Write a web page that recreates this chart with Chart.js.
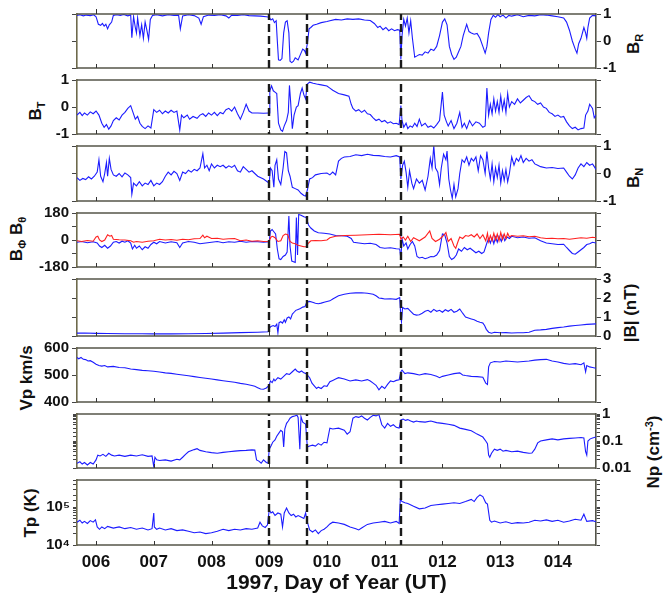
<!DOCTYPE html>
<html><head><meta charset="utf-8">
<script src="https://cdn.jsdelivr.net/npm/chart.js@4.4.1/dist/chart.umd.min.js"></script>
<style>
body{margin:0;background:#fff;width:663px;height:597px;overflow:hidden;position:relative;font-family:"Liberation Sans",Arial,sans-serif}
.pn{position:absolute;left:0}
.ttl{position:absolute;font-weight:bold;font-size:17px;white-space:nowrap;transform:translate(-50%,-50%) rotate(-90deg);color:#111;line-height:1}
.ttl sub{font-size:11px;vertical-align:-4px}
.ttl sup{font-size:11px;vertical-align:6px}
</style></head><body>
<div class="ttl" style="left:635px;top:44px">B<sub>R</sub></div>
<div class="ttl" style="left:37px;top:111px">B<sub>T</sub></div>
<div class="ttl" style="left:635px;top:178px">B<sub>N</sub></div>
<div class="ttl" style="left:18px;top:239px">B<sub>Φ</sub> B<sub>θ</sub></div>
<div class="ttl" style="left:630px;top:313px">|B| (nT)</div>
<div class="ttl" style="left:26px;top:378px">Vp km/s</div>
<div class="ttl" style="left:653px;top:452px">Np (cm<sup>-3</sup>)</div>
<div class="ttl" style="left:30px;top:513px">Tp (K)</div>
<script>
// ---------------- DATA ----------------
const dayTicks = [6, 7, 8, 9, 10, 11, 12, 13, 14];
const eventDays = [9.0, 9.65, 11.29];
const xTitle = '1997, Day of Year (UT)';

const brData = [[5.67,0.95],[5.72,0.97],[5.78,0.93],[5.83,0.96],[5.9,0.94],[5.96,0.97],[6.0,0.9],[6.04,0.62],[6.08,0.58],[6.11,0.65],[6.14,0.55],[6.17,0.62],[6.2,0.45],[6.23,0.6],[6.27,0.7],[6.3,0.95],[6.36,0.97],[6.42,0.95],[6.48,0.98],[6.55,0.93],[6.6,0.96],[6.62,0.12],[6.65,0.9],[6.68,0.5],[6.7,0.3],[6.72,0.85],[6.76,0.2],[6.79,0.6],[6.82,0.1],[6.85,0.7],[6.88,0.4],[6.91,0.06],[6.94,0.8],[6.98,0.95],[7.05,0.97],[7.15,0.93],[7.25,0.97],[7.35,0.95],[7.43,0.96],[7.46,0.45],[7.5,0.93],[7.6,0.97],[7.7,0.94],[7.78,0.85],[7.82,0.62],[7.86,0.9],[7.95,0.96],[8.05,0.95],[8.15,0.97],[8.25,0.93],[8.3,0.85],[8.35,0.96],[8.45,0.95],[8.55,0.97],[8.65,0.94],[8.75,0.93],[8.85,0.92],[8.95,0.9],[9.0,0.88],[9.03,0.78],[9.06,0.82],[9.09,0.68],[9.12,0.75],[9.14,0.0],[9.16,-0.7],[9.19,-0.72],[9.22,-0.65],[9.25,0.3],[9.28,0.7],[9.31,0.75],[9.34,0.3],[9.36,-0.75],[9.39,-0.8],[9.42,-0.75],[9.45,-0.62],[9.5,-0.7],[9.55,-0.45],[9.58,-0.3],[9.61,-0.35],[9.63,-0.45],[9.66,-0.1],[9.69,0.45],[9.72,0.5],[9.76,0.58],[9.82,0.62],[9.9,0.68],[10.0,0.72],[10.05,0.75],[10.15,0.8],[10.25,0.78],[10.35,0.82],[10.45,0.8],[10.55,0.82],[10.65,0.78],[10.75,0.76],[10.82,0.65],[10.88,0.5],[10.92,0.55],[10.97,0.42],[11.02,0.5],[11.07,0.38],[11.12,0.45],[11.17,0.38],[11.22,0.42],[11.26,0.4],[11.28,-0.68],[11.3,0.2],[11.33,0.8],[11.36,0.55],[11.39,0.85],[11.42,0.3],[11.45,0.75],[11.48,0.1],[11.52,-0.6],[11.56,-0.55],[11.6,-0.5],[11.65,-0.52],[11.7,-0.4],[11.75,-0.45],[11.8,-0.3],[11.85,-0.35],[11.9,-0.2],[11.95,0.2],[12.0,0.7],[12.04,0.82],[12.08,0.6],[12.12,-0.2],[12.16,-0.5],[12.2,-0.68],[12.24,-0.6],[12.28,-0.4],[12.32,-0.2],[12.36,0.2],[12.42,0.62],[12.46,0.35],[12.5,0.3],[12.55,0.25],[12.6,0.28],[12.65,0.1],[12.7,-0.2],[12.74,-0.45],[12.77,-0.2],[12.8,0.3],[12.84,0.8],[12.88,0.95],[12.92,0.88],[12.96,0.98],[13.0,0.9],[13.05,0.96],[13.1,0.85],[13.15,0.95],[13.2,0.92],[13.3,0.97],[13.4,0.9],[13.5,0.95],[13.6,0.93],[13.7,0.97],[13.8,0.96],[13.9,0.93],[14.0,0.9],[14.1,0.85],[14.15,0.7],[14.2,0.4],[14.25,0.0],[14.3,-0.3],[14.33,-0.45],[14.36,-0.1],[14.4,0.1],[14.45,0.5],[14.48,0.3],[14.5,0.1],[14.52,0.5],[14.55,0.85],[14.6,0.95],[14.66,0.93]];

const btData = [[5.67,-0.3],[5.72,-0.2],[5.76,-0.32],[5.8,-0.22],[5.85,-0.3],[5.9,-0.18],[5.95,-0.25],[6.0,-0.15],[6.05,-0.3],[6.1,-0.6],[6.14,-0.75],[6.18,-0.65],[6.22,-0.82],[6.26,-0.7],[6.3,-0.5],[6.35,-0.4],[6.4,-0.48],[6.45,-0.3],[6.5,-0.2],[6.55,-0.05],[6.6,0.05],[6.64,-0.2],[6.68,-0.45],[6.72,-0.35],[6.76,-0.6],[6.8,-0.72],[6.85,-0.8],[6.9,-0.7],[6.95,-0.78],[7.0,-0.1],[7.05,-0.2],[7.1,-0.12],[7.15,-0.25],[7.2,-0.15],[7.25,-0.22],[7.3,-0.12],[7.35,-0.2],[7.4,-0.15],[7.45,-0.85],[7.48,-0.3],[7.52,-0.4],[7.58,-0.3],[7.62,-0.45],[7.68,-0.35],[7.75,-0.42],[7.8,-0.3],[7.85,-0.25],[7.9,-0.35],[7.95,-0.22],[8.0,-0.3],[8.05,-0.2],[8.1,-0.32],[8.15,-0.2],[8.2,-0.25],[8.25,-0.1],[8.3,-0.05],[8.35,-0.15],[8.4,0.0],[8.45,-0.25],[8.5,-0.45],[8.55,-0.2],[8.6,0.1],[8.65,-0.15],[8.7,-0.22],[8.8,-0.22],[8.9,-0.23],[9.0,-0.22],[9.01,0.6],[9.04,0.78],[9.07,0.6],[9.1,0.55],[9.13,0.5],[9.16,-0.6],[9.2,-0.85],[9.23,-0.9],[9.26,-0.7],[9.3,-0.5],[9.33,-0.2],[9.35,0.8],[9.37,0.2],[9.4,-0.8],[9.43,-0.3],[9.47,0.0],[9.5,0.05],[9.54,0.5],[9.57,0.7],[9.6,0.45],[9.63,0.3],[9.66,0.85],[9.7,0.92],[9.76,0.88],[9.82,0.85],[9.9,0.82],[10.0,0.78],[10.05,0.7],[10.1,0.62],[10.2,0.5],[10.3,0.45],[10.38,0.4],[10.42,0.1],[10.45,-0.05],[10.5,-0.15],[10.55,-0.1],[10.6,-0.2],[10.65,-0.12],[10.7,-0.25],[10.75,-0.28],[10.8,-0.4],[10.85,-0.5],[10.9,-0.45],[10.95,-0.55],[11.0,-0.5],[11.05,-0.6],[11.1,-0.55],[11.15,-0.62],[11.2,-0.6],[11.25,-0.65],[11.28,0.05],[11.3,-0.5],[11.33,-0.75],[11.37,-0.6],[11.4,-0.8],[11.44,-0.7],[11.48,-0.75],[11.52,-0.6],[11.56,-0.72],[11.6,-0.45],[11.64,-0.7],[11.7,-0.6],[11.75,-0.75],[11.8,-0.7],[11.85,-0.78],[11.9,-0.65],[11.95,-0.5],[12.0,0.55],[12.03,-0.3],[12.07,-0.55],[12.1,-0.7],[12.15,-0.5],[12.2,-0.8],[12.25,-0.6],[12.3,-0.2],[12.34,-0.75],[12.38,-0.6],[12.42,-0.8],[12.47,-0.5],[12.52,-0.7],[12.58,-0.55],[12.64,-0.6],[12.7,-0.75],[12.74,-0.7],[12.77,0.7],[12.8,-0.3],[12.83,0.1],[12.86,-0.25],[12.89,0.3],[12.92,-0.15],[12.95,0.2],[12.98,-0.2],[13.01,0.4],[13.04,-0.1],[13.07,0.25],[13.1,-0.2],[13.13,0.5],[13.16,0.0],[13.2,0.2],[13.25,0.1],[13.3,0.3],[13.35,0.15],[13.4,0.25],[13.45,0.35],[13.5,0.42],[13.55,0.25],[13.6,0.2],[13.65,0.1],[13.7,0.15],[13.75,0.0],[13.8,-0.05],[13.85,-0.2],[13.9,-0.25],[13.95,-0.35],[14.0,-0.3],[14.05,-0.38],[14.1,-0.35],[14.15,-0.55],[14.2,-0.7],[14.25,-0.8],[14.3,-0.75],[14.35,-0.85],[14.4,-0.8],[14.45,-0.78],[14.48,-0.3],[14.52,-0.15],[14.55,0.1],[14.6,-0.05],[14.63,-0.4],[14.66,-0.3]];

const bnData = [[5.67,-0.15],[5.72,-0.25],[5.77,-0.18],[5.82,-0.22],[5.87,-0.12],[5.92,-0.2],[5.97,-0.1],[6.02,0.05],[6.05,0.5],[6.08,-0.1],[6.12,-0.3],[6.15,0.0],[6.18,0.4],[6.2,-0.1],[6.23,0.55],[6.26,0.15],[6.3,-0.05],[6.35,-0.1],[6.4,0.0],[6.45,-0.12],[6.5,0.02],[6.55,-0.05],[6.6,-0.15],[6.62,-0.75],[6.65,-0.35],[6.7,-0.45],[6.75,-0.3],[6.8,-0.45],[6.85,-0.35],[6.9,-0.4],[6.95,-0.25],[7.0,-0.45],[7.05,-0.35],[7.1,-0.4],[7.15,-0.3],[7.2,-0.1],[7.25,0.05],[7.3,-0.05],[7.35,0.08],[7.4,0.0],[7.45,-0.25],[7.5,0.05],[7.55,0.0],[7.6,0.12],[7.65,0.05],[7.7,0.15],[7.75,0.1],[7.8,0.2],[7.85,0.72],[7.88,0.2],[7.92,0.3],[7.96,0.1],[8.0,0.35],[8.05,0.2],[8.1,0.3],[8.15,0.25],[8.2,0.3],[8.25,0.2],[8.3,0.28],[8.35,0.22],[8.4,0.3],[8.45,0.1],[8.5,0.05],[8.55,0.25],[8.6,0.15],[8.65,0.05],[8.7,0.1],[8.8,-0.1],[8.9,-0.2],[9.0,-0.35],[9.02,0.2],[9.05,0.1],[9.08,-0.5],[9.1,0.3],[9.13,0.5],[9.16,-0.2],[9.2,-0.4],[9.24,0.2],[9.27,0.8],[9.3,0.75],[9.33,0.1],[9.36,-0.1],[9.4,-0.5],[9.45,-0.55],[9.5,-0.6],[9.55,-0.72],[9.6,-0.8],[9.63,-0.82],[9.66,-0.6],[9.7,-0.2],[9.75,-0.15],[9.8,-0.05],[9.9,0.0],[10.0,0.02],[10.05,-0.05],[10.1,0.05],[10.15,-0.05],[10.2,0.45],[10.25,0.55],[10.3,0.6],[10.4,0.62],[10.5,0.68],[10.6,0.65],[10.7,0.7],[10.8,0.66],[10.9,0.65],[11.0,0.62],[11.1,0.6],[11.2,0.65],[11.26,0.6],[11.28,-0.2],[11.31,0.3],[11.34,0.45],[11.37,0.05],[11.4,-0.5],[11.43,0.1],[11.47,-0.35],[11.5,-0.55],[11.55,-0.2],[11.6,-0.35],[11.65,-0.25],[11.7,-0.6],[11.75,-0.1],[11.79,0.55],[11.82,0.2],[11.85,1.0],[11.88,0.2],[11.92,0.05],[11.95,-0.4],[11.98,0.2],[12.02,0.7],[12.06,0.5],[12.08,0.82],[12.11,-0.2],[12.14,-0.6],[12.17,-0.9],[12.2,-0.4],[12.23,-0.85],[12.27,-0.55],[12.3,0.0],[12.34,0.5],[12.38,0.4],[12.42,0.6],[12.46,0.3],[12.5,0.55],[12.54,0.45],[12.58,0.6],[12.62,0.1],[12.66,0.65],[12.7,0.5],[12.74,0.0],[12.77,0.8],[12.8,0.2],[12.83,-0.2],[12.86,0.35],[12.89,-0.3],[12.92,0.2],[12.95,-0.15],[12.98,0.3],[13.01,-0.35],[13.04,0.1],[13.07,-0.25],[13.1,0.15],[13.13,-0.3],[13.16,0.0],[13.2,0.6],[13.24,0.3],[13.28,0.55],[13.32,0.45],[13.36,0.65],[13.4,0.4],[13.45,0.55],[13.5,0.45],[13.55,0.5],[13.6,0.35],[13.65,0.3],[13.7,0.25],[13.8,0.2],[13.9,0.22],[14.0,0.18],[14.1,0.2],[14.15,0.05],[14.2,-0.1],[14.25,-0.2],[14.3,-0.05],[14.35,0.2],[14.4,0.35],[14.45,0.25],[14.5,0.4],[14.55,0.3],[14.6,0.35],[14.66,0.15]];

const bphiData = [[5.67,-15],[5.75,-10],[5.85,-18],[5.95,-12],[6.02,-20],[6.06,-40],[6.1,-50],[6.15,-35],[6.2,-55],[6.25,-40],[6.3,-15],[6.35,-10],[6.4,-20],[6.45,-8],[6.5,-15],[6.55,-5],[6.6,-20],[6.63,-60],[6.67,-35],[6.7,-55],[6.75,-40],[6.8,-65],[6.85,-45],[6.9,-55],[6.95,-30],[7.0,-15],[7.05,-25],[7.1,-10],[7.2,-20],[7.3,-12],[7.4,-18],[7.45,-50],[7.5,-20],[7.6,-10],[7.7,-15],[7.8,-25],[7.9,-20],[8.0,-15],[8.1,-10],[8.2,-18],[8.3,-12],[8.4,-15],[8.5,-8],[8.6,-15],[8.7,-10],[8.8,-12],[8.9,-15],[9.0,-12],[9.02,60],[9.05,70],[9.08,55],[9.11,40],[9.14,-60],[9.17,-125],[9.2,-130],[9.24,-110],[9.28,-100],[9.31,-80],[9.34,160],[9.36,-40],[9.39,-140],[9.42,-145],[9.45,-150],[9.47,150],[9.49,-100],[9.51,170],[9.55,165],[9.6,155],[9.64,150],[9.68,100],[9.72,80],[9.78,60],[9.85,48],[9.95,45],[10.05,40],[10.15,30],[10.25,28],[10.35,25],[10.42,10],[10.46,-15],[10.55,-20],[10.65,-25],[10.75,-22],[10.85,-30],[10.92,-50],[11.0,-55],[11.1,-52],[11.2,-58],[11.26,-60],[11.28,-125],[11.3,10],[11.33,-40],[11.37,-20],[11.4,-60],[11.44,-30],[11.48,-10],[11.52,-40],[11.56,-110],[11.6,-120],[11.65,-115],[11.7,-125],[11.75,-118],[11.8,-110],[11.85,-112],[11.9,-100],[11.95,-70],[12.0,40],[12.04,35],[12.08,-20],[12.12,-110],[12.16,-130],[12.2,-120],[12.24,-100],[12.28,-60],[12.33,-75],[12.38,-50],[12.43,-65],[12.48,-55],[12.53,-70],[12.58,-85],[12.63,-75],[12.68,-90],[12.72,-80],[12.77,-20],[12.8,10],[12.83,-20],[12.86,15],[12.89,-25],[12.92,20],[12.95,-15],[12.98,25],[13.02,-10],[13.05,30],[13.08,-5],[13.12,20],[13.16,10],[13.2,25],[13.3,15],[13.4,20],[13.5,12],[13.6,15],[13.7,-5],[13.8,-20],[13.9,-25],[14.0,-30],[14.1,-28],[14.15,-50],[14.2,-70],[14.25,-90],[14.3,-95],[14.35,-80],[14.4,-65],[14.45,-50],[14.5,-30],[14.55,-25],[14.6,-15],[14.66,-20]];

const bthetaData = [[5.67,-5],[5.75,-10],[5.85,-3],[5.95,-8],[6.0,20],[6.03,25],[6.06,0],[6.1,-10],[6.15,0],[6.2,35],[6.24,25],[6.27,30],[6.3,5],[6.4,2],[6.5,0],[6.6,-5],[6.65,-15],[6.7,-10],[6.8,-15],[6.9,-8],[7.0,-5],[7.1,5],[7.2,0],[7.3,3],[7.4,-2],[7.5,5],[7.6,2],[7.7,8],[7.8,10],[7.85,32],[7.88,15],[7.92,25],[8.0,10],[8.1,12],[8.2,5],[8.3,8],[8.4,10],[8.5,-5],[8.6,0],[8.7,-8],[8.8,-5],[8.9,-10],[9.0,-8],[9.03,20],[9.06,25],[9.1,15],[9.15,-10],[9.2,-5],[9.24,30],[9.28,40],[9.32,35],[9.36,-10],[9.4,-20],[9.45,-25],[9.5,-35],[9.55,-40],[9.6,-45],[9.64,-45],[9.68,-20],[9.72,-5],[9.8,-3],[9.9,-5],[10.0,0],[10.05,15],[10.15,25],[10.3,30],[10.5,32],[10.7,35],[10.9,38],[11.1,35],[11.26,38],[11.28,5],[11.32,20],[11.36,0],[11.4,25],[11.45,-10],[11.5,15],[11.55,5],[11.6,-5],[11.7,20],[11.78,60],[11.82,10],[11.88,-10],[11.95,5],[12.02,30],[12.06,50],[12.1,-10],[12.15,10],[12.2,-40],[12.23,-55],[12.27,-10],[12.3,20],[12.35,10],[12.4,30],[12.45,25],[12.5,35],[12.55,20],[12.6,40],[12.65,10],[12.7,35],[12.75,-5],[12.78,45],[12.8,-10],[12.83,30],[12.86,-5],[12.89,45],[12.92,0],[12.95,40],[12.98,-5],[13.01,50],[13.04,5],[13.07,40],[13.1,10],[13.13,45],[13.16,20],[13.2,30],[13.3,25],[13.4,28],[13.5,22],[13.6,25],[13.7,15],[13.8,10],[13.9,12],[14.0,8],[14.1,10],[14.2,5],[14.3,10],[14.4,15],[14.5,12],[14.6,18],[14.66,15]];

const bmagData = [[5.67,0.15],[5.8,0.16],[6.0,0.14],[6.2,0.13],[6.5,0.12],[6.8,0.12],[7.0,0.11],[7.3,0.11],[7.6,0.12],[7.9,0.13],[8.2,0.15],[8.5,0.18],[8.8,0.2],[8.98,0.22],[9.0,0.4],[9.03,0.5],[9.07,0.55],[9.1,0.5],[9.13,0.62],[9.15,0.17],[9.17,0.7],[9.2,0.75],[9.23,0.68],[9.26,0.85],[9.28,0.72],[9.31,0.95],[9.34,1.0],[9.37,0.9],[9.4,1.15],[9.43,1.25],[9.46,1.35],[9.5,1.4],[9.54,1.45],[9.58,1.52],[9.62,1.55],[9.65,1.78],[9.7,1.82],[9.75,1.78],[9.8,1.72],[9.85,1.7],[9.9,1.73],[9.95,1.78],[10.0,1.82],[10.05,1.85],[10.1,1.95],[10.2,2.12],[10.3,2.2],[10.4,2.25],[10.5,2.27],[10.6,2.28],[10.7,2.25],[10.8,2.2],[10.85,2.12],[10.9,2.0],[10.95,1.98],[11.0,1.95],[11.1,1.96],[11.2,1.93],[11.26,2.02],[11.28,1.0],[11.29,0.75],[11.31,1.5],[11.35,1.42],[11.4,1.45],[11.45,1.3],[11.5,1.15],[11.55,1.1],[11.6,1.12],[11.65,1.2],[11.7,1.3],[11.75,1.35],[11.8,1.25],[11.85,1.4],[11.9,1.3],[11.95,1.35],[12.0,1.25],[12.05,1.38],[12.1,1.3],[12.15,1.4],[12.2,1.25],[12.25,1.3],[12.3,1.42],[12.35,1.2],[12.4,1.0],[12.45,0.95],[12.5,0.9],[12.55,0.85],[12.6,0.78],[12.65,0.72],[12.7,0.68],[12.73,0.55],[12.76,0.35],[12.8,0.2],[12.85,0.15],[12.9,0.2],[13.0,0.17],[13.1,0.18],[13.2,0.16],[13.3,0.17],[13.4,0.17],[13.5,0.2],[13.6,0.3],[13.7,0.32],[13.8,0.35],[13.9,0.4],[14.0,0.44],[14.1,0.47],[14.2,0.52],[14.3,0.55],[14.4,0.58],[14.5,0.61],[14.66,0.64]];

const vpData = [[5.67,565],[5.7,560],[5.74,565],[5.78,558],[5.82,557],[5.86,552],[5.9,553],[5.95,547],[6.0,540],[6.05,535],[6.1,533],[6.15,535],[6.2,530],[6.3,532],[6.4,528],[6.5,527],[6.6,522],[6.7,520],[6.8,517],[6.9,516],[7.0,514],[7.1,511],[7.2,508],[7.3,506],[7.4,503],[7.5,500],[7.6,497],[7.7,494],[7.8,491],[7.9,488],[8.0,485],[8.1,482],[8.2,479],[8.3,476],[8.4,473],[8.5,469],[8.6,466],[8.7,461],[8.75,458],[8.8,453],[8.85,448],[8.9,447],[8.95,452],[9.0,462],[9.02,478],[9.05,472],[9.08,485],[9.1,478],[9.15,490],[9.2,485],[9.25,495],[9.3,505],[9.35,502],[9.4,512],[9.45,522],[9.48,515],[9.52,510],[9.56,515],[9.6,508],[9.64,505],[9.66,500],[9.7,490],[9.74,470],[9.78,460],[9.82,450],[9.85,455],[9.9,450],[9.95,460],[10.0,458],[10.05,475],[10.1,480],[10.15,485],[10.2,490],[10.3,485],[10.4,478],[10.5,482],[10.6,478],[10.7,483],[10.75,478],[10.8,470],[10.85,462],[10.9,445],[10.95,458],[11.0,450],[11.05,465],[11.1,478],[11.15,475],[11.2,480],[11.25,482],[11.28,512],[11.3,518],[11.35,505],[11.4,508],[11.5,505],[11.6,500],[11.7,505],[11.8,502],[11.9,495],[11.95,490],[12.0,495],[12.1,500],[12.2,505],[12.3,508],[12.35,500],[12.4,498],[12.5,495],[12.6,494],[12.7,492],[12.75,470],[12.78,465],[12.8,530],[12.83,545],[12.9,550],[13.0,548],[13.1,552],[13.2,550],[13.3,548],[13.4,550],[13.5,552],[13.6,555],[13.7,557],[13.8,558],[13.9,552],[14.0,548],[14.1,543],[14.2,540],[14.3,542],[14.4,538],[14.45,545],[14.48,512],[14.5,535],[14.55,530],[14.6,528],[14.66,525]];

const npData = [[5.67,0.015],[5.72,0.017],[5.76,0.014],[5.8,0.016],[5.85,0.013],[5.9,0.016],[5.95,0.014],[6.0,0.02],[6.03,0.03],[6.07,0.028],[6.12,0.032],[6.17,0.027],[6.22,0.035],[6.27,0.03],[6.32,0.028],[6.4,0.03],[6.5,0.027],[6.6,0.03],[6.7,0.028],[6.8,0.031],[6.9,0.027],[6.97,0.028],[7.0,0.011],[7.02,0.025],[7.05,0.02],[7.1,0.019],[7.2,0.02],[7.3,0.018],[7.4,0.021],[7.45,0.02],[7.5,0.025],[7.55,0.032],[7.6,0.04],[7.7,0.048],[7.75,0.052],[7.8,0.045],[7.9,0.04],[8.0,0.037],[8.1,0.035],[8.2,0.038],[8.3,0.04],[8.4,0.042],[8.5,0.044],[8.6,0.045],[8.7,0.047],[8.75,0.046],[8.78,0.02],[8.82,0.018],[8.86,0.015],[8.9,0.02],[8.95,0.016],[8.98,0.015],[9.0,0.05],[9.03,0.065],[9.06,0.09],[9.1,0.11],[9.13,0.15],[9.17,0.2],[9.2,0.25],[9.23,0.22],[9.25,0.06],[9.27,0.28],[9.3,0.45],[9.33,0.55],[9.36,0.7],[9.4,0.8],[9.44,0.85],[9.48,0.9],[9.5,0.75],[9.53,0.05],[9.55,0.8],[9.58,0.5],[9.61,0.45],[9.63,0.42],[9.66,0.06],[9.7,0.065],[9.75,0.07],[9.8,0.065],[9.85,0.08],[9.9,0.07],[9.95,0.09],[10.0,0.085],[10.05,0.3],[10.1,0.28],[10.2,0.3],[10.3,0.25],[10.35,0.18],[10.4,0.22],[10.45,0.7],[10.5,0.8],[10.55,0.75],[10.6,0.85],[10.65,0.7],[10.7,0.6],[10.75,0.75],[10.8,0.9],[10.85,0.85],[10.9,0.95],[10.95,0.4],[11.0,0.3],[11.05,0.45],[11.1,0.35],[11.15,0.4],[11.2,0.32],[11.25,0.3],[11.28,0.6],[11.32,0.65],[11.36,0.58],[11.4,0.62],[11.45,0.55],[11.5,0.5],[11.55,0.55],[11.6,0.52],[11.7,0.5],[11.8,0.55],[11.9,0.48],[12.0,0.45],[12.1,0.42],[12.2,0.38],[12.3,0.3],[12.4,0.27],[12.5,0.24],[12.6,0.18],[12.7,0.14],[12.75,0.1],[12.78,0.08],[12.8,0.03],[12.82,0.025],[12.85,0.035],[12.9,0.05],[12.95,0.045],[13.0,0.05],[13.05,0.042],[13.1,0.045],[13.2,0.04],[13.3,0.042],[13.4,0.038],[13.5,0.035],[13.55,0.036],[13.6,0.05],[13.65,0.085],[13.7,0.1],[13.8,0.11],[13.9,0.12],[14.0,0.11],[14.1,0.12],[14.2,0.125],[14.3,0.13],[14.4,0.135],[14.45,0.13],[14.48,0.04],[14.5,0.03],[14.52,0.1],[14.56,0.12],[14.6,0.13],[14.66,0.14]];

const tpData = [[5.67,40000],[5.72,45000],[5.76,38000],[5.8,42000],[5.85,37000],[5.9,44000],[5.95,40000],[5.99,46000],[6.02,30000],[6.06,26000],[6.1,30000],[6.15,27000],[6.2,31000],[6.3,28000],[6.4,30000],[6.5,27000],[6.6,29000],[6.7,26000],[6.8,28000],[6.9,25000],[6.97,27000],[7.0,70000],[7.01,30000],[7.05,26000],[7.1,28000],[7.2,25000],[7.3,27000],[7.4,24000],[7.5,25000],[7.6,23000],[7.7,21000],[7.8,22000],[7.9,20000],[8.0,21000],[8.1,23000],[8.2,26000],[8.3,24000],[8.4,26000],[8.5,25000],[8.6,27000],[8.7,26000],[8.8,28000],[8.84,40000],[8.88,32000],[8.93,29000],[8.97,34000],[9.0,85000],[9.03,70000],[9.06,75000],[9.1,60000],[9.15,70000],[9.2,65000],[9.23,30000],[9.26,70000],[9.3,95000],[9.34,70000],[9.38,60000],[9.42,65000],[9.46,55000],[9.5,60000],[9.55,55000],[9.6,50000],[9.63,70000],[9.66,40000],[9.7,25000],[9.75,22000],[9.8,25000],[9.85,20000],[9.9,24000],[9.95,26000],[10.0,30000],[10.05,36000],[10.1,40000],[10.2,38000],[10.3,35000],[10.4,30000],[10.5,27000],[10.55,25000],[10.6,28000],[10.7,35000],[10.8,38000],[10.9,40000],[11.0,42000],[11.1,38000],[11.2,42000],[11.25,37000],[11.27,160000],[11.3,140000],[11.35,130000],[11.4,125000],[11.5,105000],[11.6,90000],[11.7,95000],[11.8,110000],[11.9,115000],[12.0,120000],[12.1,125000],[12.2,130000],[12.3,125000],[12.4,140000],[12.5,160000],[12.55,140000],[12.6,180000],[12.65,210000],[12.7,190000],[12.75,130000],[12.78,120000],[12.82,45000],[12.85,40000],[12.9,43000],[13.0,38000],[13.1,41000],[13.2,37000],[13.3,39000],[13.4,38000],[13.5,40000],[13.6,45000],[13.7,43000],[13.8,46000],[13.9,42000],[14.0,45000],[14.1,40000],[14.2,43000],[14.3,48000],[14.4,45000],[14.45,65000],[14.5,42000],[14.6,44000],[14.66,41000]];

// ---------------- LAYOUT / STYLE ----------------
const X_MIN = 5.67, X_MAX = 14.66;
const PLOT_L = 77, PLOT_R = 596, W = 663, H = 597;
const edges = [12, 78, 144, 211, 277, 346, 412, 478, 545];
const BLUE = '#1c1cff', RED = '#ff2020';
const FONT = '"Liberation Sans", Arial, sans-serif';

function pts(a){ return a.map(p => ({x:p[0], y:p[1]})); }
function isPow10(v){ const l = Math.log10(v); return Math.abs(l - Math.round(l)) < 1e-6; }

const framePlugin = {
  id: 'frame',
  afterDatasetsDraw(chart, args, opts){
    const {ctx, chartArea:a} = chart;
    const xs = chart.scales.x;
    ctx.save();
    ctx.strokeStyle = '#55554a'; ctx.lineWidth = 1.6; ctx.setLineDash([]);
    ctx.beginPath();
    ctx.moveTo(a.left, a.top); ctx.lineTo(a.right, a.top);
    ctx.moveTo(a.left, a.bottom); ctx.lineTo(a.right, a.bottom);
    ctx.stroke();
    ctx.lineWidth = 1; ctx.strokeStyle = '#333';
    ctx.beginPath();
    dayTicks.forEach(d => {
      const px = Math.round(xs.getPixelForValue(d)) + 0.5;
      ctx.moveTo(px, a.bottom); ctx.lineTo(px, a.bottom - 4);
      if (opts.first) { ctx.moveTo(px, a.top); ctx.lineTo(px, a.top - 5); }
    });
    ctx.stroke();
    ctx.strokeStyle = '#1a1a1a'; ctx.lineWidth = 2.4; ctx.setLineDash([8, 4]);
    ctx.lineDashOffset = (opts.cTop + a.top - 12);
    ctx.beginPath();
    eventDays.forEach(d => {
      const px = Math.round(xs.getPixelForValue(d));
      ctx.moveTo(px, a.top); ctx.lineTo(px, a.bottom);
    });
    ctx.stroke();
    ctx.restore();
  }
};

function yAxis(pos, cfg, showLabels){
  const ax = {
    type: cfg.type || 'linear',
    position: pos,
    min: cfg.min, max: cfg.max,
    afterFit: s => { s.width = pos === 'left' ? PLOT_L : (W - PLOT_R); },
    grid: {display:true, drawOnChartArea:false, drawTicks:true, tickLength: cfg.type === 'logarithmic' ? 4 : 5, color:'#444', lineWidth:1},
    border: {display:true, color: pos === 'left' ? '#6e6a4c' : '#55554a', width:1.6},
    ticks: {
      autoSkip:false, includeBounds:true, padding: pos === 'left' ? 3 : 2,
      color:'#111', font:{family:FONT, size:15, weight:'bold'},
      callback: v => showLabels ? cfg.label(v) : ''
    }
  };
  if (cfg.step) ax.ticks.stepSize = cfg.step;
  return ax;
}

function makePanel(idx, datasets, cfg, labelSide){
  const top = edges[idx], bot = edges[idx+1];
  const last = idx === 7;
  const padT = 10, padB = last ? 0 : 10;
  const cTop = top - padT;
  const h = last ? H - cTop : (bot - top) + padT + padB;
  const div = document.createElement('div');
  div.className = 'pn';
  div.style.top = cTop + 'px'; div.style.width = W + 'px'; div.style.height = h + 'px';
  const cv = document.createElement('canvas');
  cv.width = W; cv.height = h; cv.style.width = W + 'px'; cv.style.height = h + 'px';
  div.appendChild(cv); document.body.appendChild(div);
  new Chart(cv, {
    type: 'line',
    data: { datasets: datasets.map(d => Object.assign({
      xAxisID:'x', yAxisID:'y', pointRadius:0, borderWidth:1.1, tension:0, fill:false
    }, d)) },
    options: {
      responsive:false, animation:false, devicePixelRatio:1,
      layout: {padding:{top:padT, bottom:padB, left:0, right:0}},
      plugins: {legend:{display:false}, tooltip:{enabled:false}, frame:{first: idx === 0, cTop: cTop}},
      scales: {
        x: {
          type:'linear', min:X_MIN, max:X_MAX, display:last,
          afterFit: s => { s.height = h - padT - (bot - top); },
          grid:{display:false, drawTicks:false}, border:{display:false},
          ticks:{stepSize:1, includeBounds:false, autoSkip:false, maxRotation:0, padding:7,
                 color:'#111', font:{family:FONT, size:17, weight:'bold'},
                 callback: v => String(Math.round(v)).padStart(3, '0')},
          title:{display:true, text:xTitle, color:'#111', font:{family:FONT, size:21, weight:'bold'}, padding:{top:0, bottom:1}}
        },
        y: yAxis('left', cfg, labelSide === 'left'),
        y2: yAxis('right', cfg, labelSide === 'right')
      }
    },
    plugins: [framePlugin]
  });
}

const lin = v => String(Math.round(v));

makePanel(0, [{data:pts(brData), borderColor:BLUE}], {min:-1, max:1, step:1, label:lin}, 'right');
makePanel(1, [{data:pts(btData), borderColor:BLUE}], {min:-1, max:1, step:1, label:lin}, 'left');
makePanel(2, [{data:pts(bnData), borderColor:BLUE}], {min:-1, max:1, step:1, label:lin}, 'right');
makePanel(3, [{data:pts(bthetaData), borderColor:RED}, {data:pts(bphiData), borderColor:BLUE}],
  {min:-180, max:180, step:90, label: v => (Math.round(v) % 180 === 0 ? String(Math.round(v)) : '')}, 'left');
makePanel(4, [{data:pts(bmagData), borderColor:BLUE}], {min:0, max:3, step:1, label:lin}, 'right');
makePanel(5, [{data:pts(vpData), borderColor:BLUE}], {min:400, max:600, step:100, label:lin}, 'left');
makePanel(6, [{data:pts(npData), borderColor:BLUE}],
  {type:'logarithmic', min:0.01, max:1, label: v => isPow10(v) ? String(Math.pow(10, Math.round(Math.log10(v)))) : ''}, 'right');
makePanel(7, [{data:pts(tpData), borderColor:BLUE}],
  {type:'logarithmic', min:10000, max:520000, label: v => { if(!isPow10(v)) return ''; const e = Math.round(Math.log10(v)); return '10' + (e === 4 ? '⁴' : e === 5 ? '⁵' : String(e)); }}, 'left');
</script>
</body></html>
